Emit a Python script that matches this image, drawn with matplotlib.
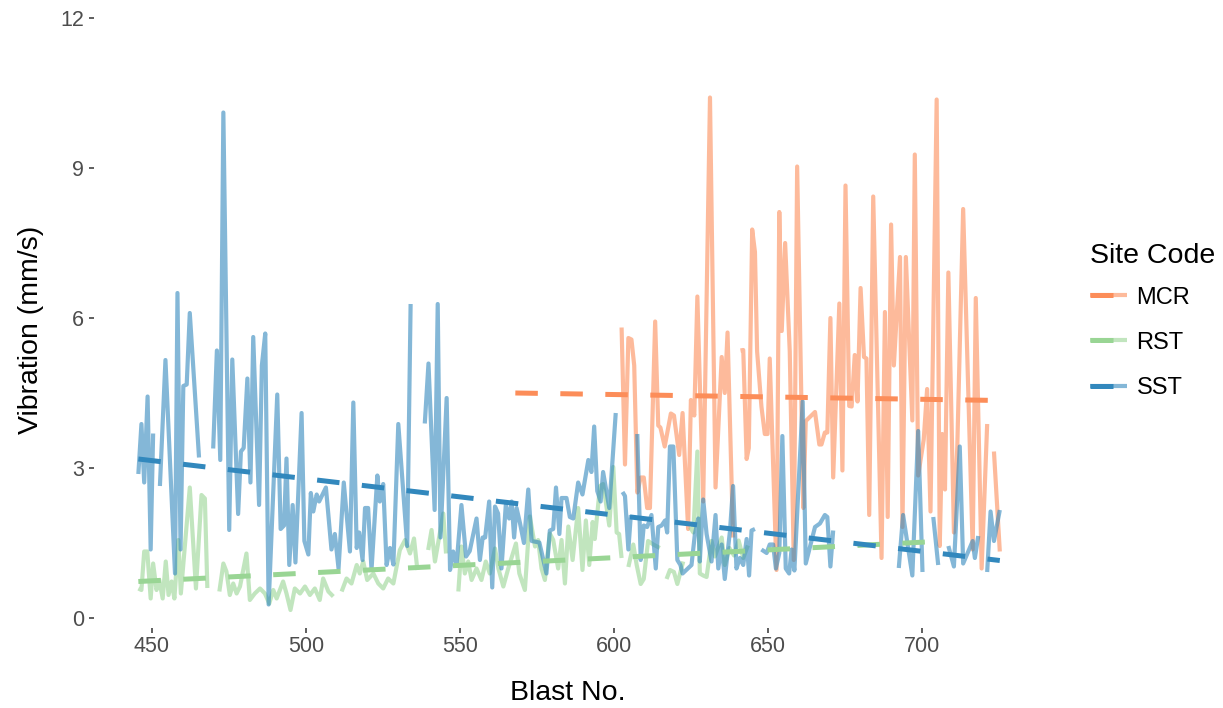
import numpy as np
import matplotlib
matplotlib.use("Agg")
import matplotlib.pyplot as plt
from matplotlib.lines import Line2D
from matplotlib.legend_handler import HandlerBase

nan = np.nan

# ---------------- data ----------------
site_codes = ["MCR", "RST", "SST"]

sst_x = [445.6, 446.6, 447.5, 448.6, 449.6, 450.4, 451.5, 452.6, 454.4, 457.5, 458.3, 459.3, 460.2, 461.3,
         462.3, 465.3, 467.5, 469.9, 471.1, 472.2, 473.2, 475.1, 476.1, 478.0, 478.9, 479.8, 481.0, 482.0,
         482.9, 484.8, 485.7, 486.8, 487.9, 490.7, 491.8, 492.9, 493.7, 494.6, 495.7, 496.6, 498.6, 499.5,
         500.8, 501.6, 502.4, 503.5, 504.3, 506.5, 508.3, 509.4, 510.6, 512.3, 514.3, 515.4, 516.5, 517.3,
         518.4, 519.2, 520.2, 521.3, 523.2, 524.0, 525.1, 526.2, 527.3, 528.4, 530.0, 532.9, 534.0, 536.0,
         538.6, 539.8, 541.8, 542.8, 543.7, 545.7, 546.8, 547.8, 548.9, 550.5, 552.0, 553.2, 555.4, 556.5,
         557.4, 558.2, 559.5, 560.5, 561.4, 562.4, 563.5, 564.9, 566.0, 566.8, 567.6, 568.4, 569.5, 570.8,
         572.2, 573.3, 575.8, 578.1, 579.2, 580.3, 581.2, 582.3, 583.0, 584.6, 585.7, 586.8, 588.4, 589.8,
         591.7, 592.7, 593.6, 594.6, 595.7, 596.5, 598.5, 600.6, 601.7, 602.8, 603.6, 604.7, 605.5, 606.5,
         607.6, 608.7, 609.7, 610.8, 612.2, 613.6, 614.4, 615.5, 616.6, 617.3, 618.2, 619.3, 620.6, 621.6,
         622.3, 625.2, 626.3, 627.4, 627.9, 629.0, 630.1, 631.7, 633.0, 633.9, 635.0, 636.0, 637.7, 638.7,
         639.8, 640.9, 642.0, 643.1, 643.9, 644.7, 645.8, 646.8, 647.9, 649.6, 650.6, 651.7, 652.6, 653.7,
         654.7, 655.8, 656.9, 657.7, 658.6, 661.3, 662.3, 665.3, 666.9, 668.5, 669.3, 670.3, 671.2, 680.0,
         692.5, 693.9, 696.9, 698.8, 700.2, 702.0, 703.7, 705.3, 707.0, 708.6, 710.4, 712.3, 713.4, 716.5,
         717.2, 718.3, 720.0, 721.2, 722.3, 723.4, 725.3]
sst_y = [2.88, 3.88, 2.71, 4.43, 1.37, 3.69, nan, 2.64, 5.16, 0.89, 6.50, 1.37, 4.64, 4.67,
         6.10, 3.21, nan, 3.39, 5.35, 3.16, 10.11, 1.76, 5.17, 2.08, 3.33, 3.40, 4.79, 2.71,
         5.62, 2.26, 5.05, 5.69, 0.27, 4.47, 1.78, 1.85, 3.19, 1.06, 2.26, 1.11, 4.10, 1.54,
         1.27, 2.50, 2.13, 2.47, 2.33, 2.61, 1.37, 1.68, 0.99, 2.71, 1.33, 4.31, 1.40, 1.71,
         1.16, 2.20, 2.20, 0.96, 2.85, 2.33, 2.68, 1.06, 1.40, 1.07, 3.88, 1.44, 6.28, nan,
         3.89, 5.09, 2.16, 6.28, 1.61, 4.40, 0.96, 1.33, 1.06, 2.26, 1.23, 1.34, 1.99, 1.16,
         1.61, 1.61, 2.33, 0.61, 2.23, 2.09, 0.99, 2.26, 1.99, 2.33, 1.61, 2.20, 1.90, 1.50,
         2.57, 1.54, 1.51, 0.89, 1.75, 1.78, 2.61, 1.68, 2.40, 2.40, 2.02, 1.99, 2.71, 2.47,
         3.16, 2.92, 3.83, 2.54, 2.33, 2.92, 2.20, 4.10, nan, 2.52, 2.44, 1.37, 2.06, nan,
         3.68, 1.16, 1.85, 1.82, 2.06, 0.99, 1.82, 1.85, 1.95, 1.71, 3.43, 3.43, 1.16, 1.06,
         0.89, 1.06, 1.68, 1.99, 1.13, 2.37, 1.68, 1.13, 2.06, 0.99, 1.47, 0.78, 1.75, 2.64,
         0.99, 1.20, 1.06, 1.58, 0.85, 1.75, 1.78, nan, 1.37, 1.30, 1.47, 1.47, 0.99, 1.30,
         3.64, 0.99, 0.89, 1.37, 0.95, 4.33, 1.09, 1.82, 1.89, 2.06, 2.02, 1.03, 1.75, nan,
         1.00, 2.06, 0.85, 3.74, 0.92, nan, 2.02, 1.06, nan, 1.44, 1.03, 3.43, 1.09, 1.54,
         1.20, 1.64, nan, 0.92, 2.13, 1.54, 2.16]

rst_x = [445.6, 446.6, 447.5, 448.5, 449.6, 450.4, 451.5, 452.4, 453.5, 454.5, 455.4, 456.4, 457.3, 458.6,
         459.4, 462.3, 464.3, 466.1, 467.2, 468.0, 470.0, 471.9, 473.2, 474.2, 475.3, 476.4, 477.5, 478.6,
         480.7, 481.8, 483.4, 485.1, 486.7, 488.1, 489.4, 490.5, 492.6, 493.7, 495.0, 496.4, 498.1, 499.7,
         501.3, 502.9, 504.5, 505.6, 507.3, 508.9, 510.2, 511.6, 513.2, 514.8, 516.5, 517.5, 518.6, 519.9,
         521.9, 523.5, 525.1, 526.7, 528.4, 530.5, 532.2, 533.8, 535.1, 536.2, 538.0, 539.7, 540.8, 541.9,
         544.6, 545.5, 547.5, 549.5, 550.5, 551.6, 552.7, 553.8, 555.4, 557.0, 558.4, 559.7, 561.4, 562.5,
         564.1, 565.7, 568.2, 569.3, 571.1, 572.7, 574.4, 575.4, 576.5, 577.6, 579.2, 580.3, 581.9, 583.0,
         584.1, 585.2, 586.6, 588.4, 589.8, 590.9, 592.0, 593.1, 593.8, 595.5, 596.5, 598.5, 599.8, 600.9,
         601.7, 602.5, 603.5, 604.7, 606.3, 607.4, 608.7, 609.7, 611.1, 612.8, 614.9, 616.0, 617.1, 618.2,
         619.5, 620.6, 622.5, 623.5, 624.7, 625.8, 627.1, 627.9, 629.0, 630.1, 631.7, 632.8, 635.0, 636.0,
         637.5, 639.0, 640.5, 642.0, 643.5]
rst_y = [0.59, 0.56, 1.33, 1.33, 0.39, 1.09, 0.56, 0.76, 0.39, 1.13, 0.46, 0.73, 0.39, 1.56,
         0.49, 2.61, 0.59, 2.46, 2.39, 0.60, nan, 0.53, 1.09, 0.93, 0.46, 0.69, 0.49, 0.63,
         1.29, 0.36, 0.49, 0.59, 0.49, 0.29, 0.56, 0.39, 0.73, 0.49, 0.16, 0.59, 0.49, 0.63,
         0.46, 0.59, 0.36, 0.79, 0.53, 0.43, nan, 0.53, 0.79, 0.69, 1.06, 0.89, 1.13, 0.76,
         0.89, 0.69, 0.59, 0.79, 0.69, 1.36, 1.56, 1.29, 1.59, 0.96, nan, 1.36, 1.76, 1.13,
         2.09, 1.29, nan, 0.53, 1.43, 0.89, 1.13, 0.76, 0.99, 0.76, 1.13, 0.89, 1.39, 0.99,
         0.63, 0.99, 1.49, 0.89, 0.56, 2.03, 1.43, 1.56, 0.99, 0.76, 1.69, 1.56, 0.99, 1.56,
         0.69, 1.83, 1.16, 2.20, 0.96, 1.95, 1.06, 1.92, 1.58, 2.64, 2.68, 1.85, 3.02, 1.71,
         1.68, 1.20, nan, 1.02, 1.47, 1.06, 0.68, 0.78, 1.54, 1.47, 1.40, nan, 0.78, 0.96,
         0.92, 0.68, 1.13, nan, 1.82, 1.71, 3.33, 0.89, 0.85, 0.82, 1.54, 1.23, 1.61, 1.06,
         1.40, 1.25, 1.55, 1.20, 1.45]

mcr_x = [602.5, 603.6, 604.7, 605.7, 606.6, 607.6, 608.7, 609.7, 610.8, 611.7, 613.4, 614.4, 615.1, 616.5,
         618.5, 619.5, 621.2, 622.3, 624.1, 625.0, 626.1, 627.1, 629.0, 631.2, 633.0, 635.0, 636.0, 636.9,
         638.7, 640.0, 641.1, 642.0, 643.1, 643.8, 644.9, 645.8, 646.5, 647.9, 649.0, 649.9, 650.6, 652.8,
         653.7, 654.5, 655.6, 657.1, 658.4, 659.5, 661.5, 662.3, 665.3, 666.7, 667.4, 668.5, 669.3, 670.3,
         671.2, 673.2, 674.2, 675.2, 676.4, 677.2, 678.2, 679.1, 680.1, 681.2, 682.0, 682.9, 684.2, 686.9,
         688.0, 688.9, 690.0, 690.9, 692.9, 693.7, 694.8, 696.9, 697.7, 698.8, 700.6, 701.7, 702.8, 704.8,
         705.8, 706.6, 707.5, 708.6, 710.4, 711.5, 713.4, 716.5, 717.5, 719.4, 721.2, 722.3, 723.4, 725.3]
mcr_y = [5.81, 3.07, 5.60, 5.57, 5.05, 2.51, 2.81, 2.81, 2.20, 2.20, 5.93, 3.85, 3.81, 3.43,
         4.09, 4.05, 3.26, 4.10, 1.78, 4.36, 4.05, 6.43, 2.33, 10.41, 2.61, 5.22, 4.50, 5.71,
         1.61, nan, 5.35, 5.36, 3.18, 3.40, 7.77, 7.32, 5.33, 4.23, 3.68, 3.68, 5.19, 0.96,
         8.12, 5.74, 7.50, 5.33, 1.16, 9.03, 2.20, 3.94, 4.12, 3.47, 3.47, 3.71, 3.71, 6.00,
         2.81, 6.29, 2.95, 8.65, 4.24, 4.23, 5.26, 4.33, 6.60, 5.22, 5.19, 2.06, 8.43, 1.20,
         6.12, 2.02, 7.87, 5.05, 7.22, 1.82, 7.22, 3.95, 9.27, 2.85, 3.57, 4.58, 2.13, 10.37,
         1.44, 3.68, 2.57, 6.91, 1.71, 3.43, 8.18, 1.37, 6.40, 0.99, 3.88, nan, 3.33, 1.33]

# linear trend lines (start/end)
trend_x0 = [568.0, 445.6, 445.6]
trend_x1 = [725.3, 704.5, 725.3]
trend_y0 = [4.50, 0.73, 3.18]
trend_y1 = [4.35, 1.53, 1.15]

x_ticks = [450, 500, 550, 600, 650, 700]
y_ticks = [0, 3, 6, 9, 12]

# ---------------- style ----------------
colors = {"MCR": "#FC8D59", "RST": "#99D594", "SST": "#3288BD"}
plt.rcParams["font.family"] = ["Liberation Sans", "DejaVu Sans"]

W, H = 1223, 708
fig = plt.figure(figsize=(W / 100, H / 100), dpi=100)
ax = fig.add_axes([94 / W, 1 - 628 / H, (1042 - 94) / W, (628 - 5) / H])
ax.set_xlim(431.2, 739.0)
ax.set_ylim(-0.2, 12.26)

series = {"MCR": (mcr_x, mcr_y), "RST": (rst_x, rst_y), "SST": (sst_x, sst_y)}
data_lw = 3.0
trend_lw = 3.6
dash = (0, (4.5, 4.5))

for code in site_codes:
    xs, ys = series[code]
    ax.plot(xs, ys, color=colors[code], alpha=0.6, lw=data_lw,
            solid_joinstyle="round", solid_capstyle="butt", zorder=2)

for i, code in enumerate(site_codes):
    ax.plot([trend_x0[i], trend_x1[i]], [trend_y0[i], trend_y1[i]], color=colors[code],
            lw=trend_lw, linestyle=dash, dash_capstyle="butt", zorder=3)

for s in ax.spines.values():
    s.set_visible(False)
ax.set_xticks(x_ticks)
ax.set_yticks(y_ticks)
ax.set_yticklabels([str(v) for v in y_ticks])
ax.tick_params(axis="both", length=3.8, width=1.1, color="#333333",
               labelcolor="#4d4d4d", labelsize=15.5)
ax.tick_params(axis="x", pad=2.0)
ax.tick_params(axis="y", pad=3.5)

fig.text(31 / W, 1 - 330 / H, "Vibration (mm/s)", rotation=90, ha="center", va="center",
         fontsize=20.5, color="black")
fig.text(568 / W, 1 - 693 / H, "Blast No.", ha="center", va="center",
         fontsize=20.5, color="black")


class KeyHandler(HandlerBase):
    """ggplot-like key: light data line underneath, dark dashed trend on top (first dash)."""
    def create_artists(self, legend, orig_handle, xdescent, ydescent, width, height,
                       fontsize, trans):
        c = orig_handle.get_color()
        y = height / 2.0 - ydescent
        x0 = -xdescent
        light = Line2D([x0, x0 + width], [y, y], color=c, alpha=0.6, lw=data_lw,
                       solid_capstyle="butt", transform=trans)
        dark = Line2D([x0, x0 + width * 0.62], [y, y], color=c, lw=trend_lw,
                      solid_capstyle="butt", transform=trans)
        return [light, dark]


handles = [Line2D([], [], color=colors[c]) for c in site_codes]
leg = fig.legend(handles, site_codes, handler_map={Line2D: KeyHandler()},
                 loc="upper left", bbox_to_anchor=(1073 / W, 1 - 226 / H),
                 frameon=False, title="Site Code", fontsize=17, title_fontsize=20.5,
                 handlelength=1.57, handletextpad=0.42, labelspacing=0.98, alignment="left",
                 borderpad=0.2)
leg._legend_box.sep = 13

fig.savefig("out.png", dpi=100)
